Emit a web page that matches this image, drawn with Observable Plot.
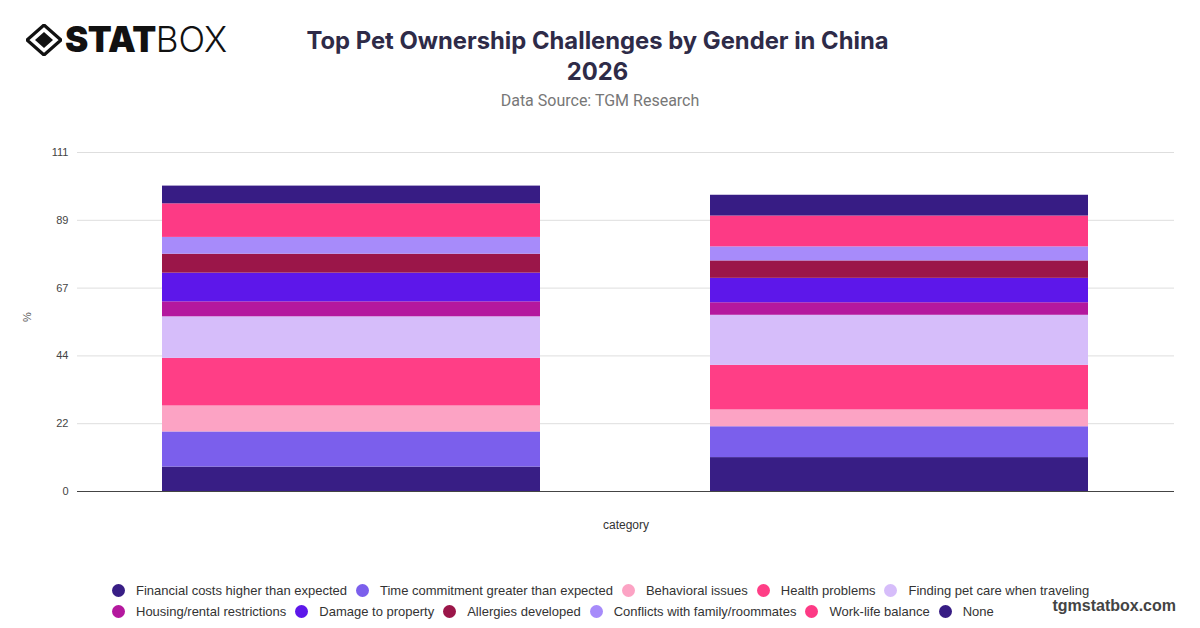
<!DOCTYPE html>
<html>
<head>
<meta charset="utf-8">
<script src="https://cdn.jsdelivr.net/npm/d3@7"></script>
<script src="https://cdn.jsdelivr.net/npm/@observablehq/plot@0.6"></script>
<style>
  html, body { margin: 0; padding: 0; background: #fff; }
  body { width: 1200px; height: 628px; position: relative; overflow: hidden; font-family: "Liberation Sans", Arial, sans-serif; }
  #logo { position: absolute; left: 26px; top: 22px; display: flex; align-items: center; }
  #logo .stat { font-family: Inter, "DejaVu Sans", sans-serif; font-weight: 900; font-size: 35px; color: #111; letter-spacing: -0.5px; margin-left: 3px; line-height: 1; }
  #logo .box { font-family: Inter, "DejaVu Sans", sans-serif; font-weight: 300; font-size: 35px; color: #111; line-height: 1; }
  #title { position: absolute; left: 0; width: 1195px; top: 25px; text-align: center; font-family: Inter, "Liberation Sans", sans-serif; font-weight: 700; font-size: 23.8px; line-height: 31px; color: #2e2b48; }
  #subtitle { position: absolute; left: 0; width: 1200px; top: 91px; text-align: center; font-family: Roboto, "Liberation Sans", sans-serif; font-size: 16px; color: #777; }
  #chart { position: absolute; left: 0; top: 130px; }
  #legend { position: absolute; left: 112px; top: 580px; width: 1000px; font-size: 13px; color: #333; }
  .row { display: flex; align-items: center; height: 21px; white-space: nowrap; }
  .item { display: flex; align-items: center; margin-right: 9px; }
  .dot { width: 13px; height: 13px; border-radius: 50%; margin-right: 11px; }
  #site { position: absolute; right: 24px; top: 597px; font-family: "Liberation Sans", Arial, sans-serif; font-weight: 700; font-size: 16px; color: #444; }
</style>
</head>
<body>
<div id="logo">
  <svg width="36" height="32" viewBox="0 0 36 32">
    <polygon points="18,1 35,16 18,31 1,16" fill="none" stroke="#111" stroke-width="3.2" stroke-linejoin="round"/>
    <polygon points="18,8 27,16 18,24 9,16" fill="#111"/>
  </svg>
  <span class="stat">STAT</span><span class="box">BOX</span>
</div>
<div id="title">Top Pet Ownership Challenges by Gender in China<br>2026</div>
<div id="subtitle">Data Source: TGM Research</div>
<div id="chart"></div>
<div id="legend"></div>
<div id="site">tgmstatbox.com</div>
<script>
const categories = ["Male", "Female"];
const challenges = [
  "Financial costs higher than expected",
  "Time commitment greater than expected",
  "Behavioral issues",
  "Health problems",
  "Finding pet care when traveling",
  "Housing/rental restrictions",
  "Damage to property",
  "Allergies developed",
  "Conflicts with family/roommates",
  "Work-life balance",
  "None"
];
const maleValues   = [8.0, 11.5, 8.5, 15.6, 13.6, 4.9, 9.4, 6.2, 5.5, 11.0, 5.8];
const femaleValues = [11.1, 10.1, 5.5, 14.6, 16.4, 4.1, 8.0, 5.7, 4.6, 10.1, 6.8];
const colors = ["#381e85", "#7b5fec", "#fca3c4", "#ff3e86", "#d6bdfa", "#b4189e", "#5d17ea", "#9b1649", "#a78bfa", "#fd3a85", "#371c84"];
const yTicks = [0, 22.2, 44.4, 66.6, 88.8, 111];

const seriesByCategory = [maleValues, femaleValues];
const data = [];
categories.forEach((c, ci) => {
  challenges.forEach((ch, i) => data.push({category: c, challenge: ch, value: seriesByCategory[ci][i]}));
});

const chart = Plot.plot({
  width: 1200,
  height: 410,
  marginTop: 22,
  marginBottom: 49,
  marginLeft: 77,
  marginRight: 26,
  style: {fontFamily: "'Liberation Sans', Arial, sans-serif", fontSize: "11px", color: "#444"},
  x: {domain: categories, paddingInner: 0.31, paddingOuter: 0.155, axis: null},
  y: {domain: [0, 111], axis: null},
  color: {domain: challenges, range: colors},
  marks: [
    Plot.gridY(yTicks, {stroke: "#dedede", strokeOpacity: 1}),
    Plot.axisY(yTicks, {tickSize: 0, tickPadding: 9, tickFormat: d3.format(".0f"), label: null, fill: "#444"}),
    Plot.barY(data, {x: "category", y: "value", fill: "challenge", order: challenges}),
    Plot.ruleY([0], {stroke: "#444", strokeWidth: 1.2}),
    Plot.text(["category"], {frameAnchor: "bottom", dy: 37, fill: "#333", fontSize: 12}),
    Plot.text(["%"], {frameAnchor: "left", dx: -50, rotate: -90, fill: "#555", fontSize: 11})
  ]
});
document.getElementById("chart").appendChild(chart);

const legend = document.getElementById("legend");
const rows = [challenges.slice(0, 5), challenges.slice(5)];
rows.forEach(r => {
  const row = document.createElement("div");
  row.className = "row";
  r.forEach(ch => {
    const item = document.createElement("div");
    item.className = "item";
    const dot = document.createElement("span");
    dot.className = "dot";
    dot.style.background = colors[challenges.indexOf(ch)];
    const t = document.createElement("span");
    t.textContent = ch;
    item.appendChild(dot);
    item.appendChild(t);
    row.appendChild(item);
  });
  legend.appendChild(row);
});
</script>
</body>
</html>
